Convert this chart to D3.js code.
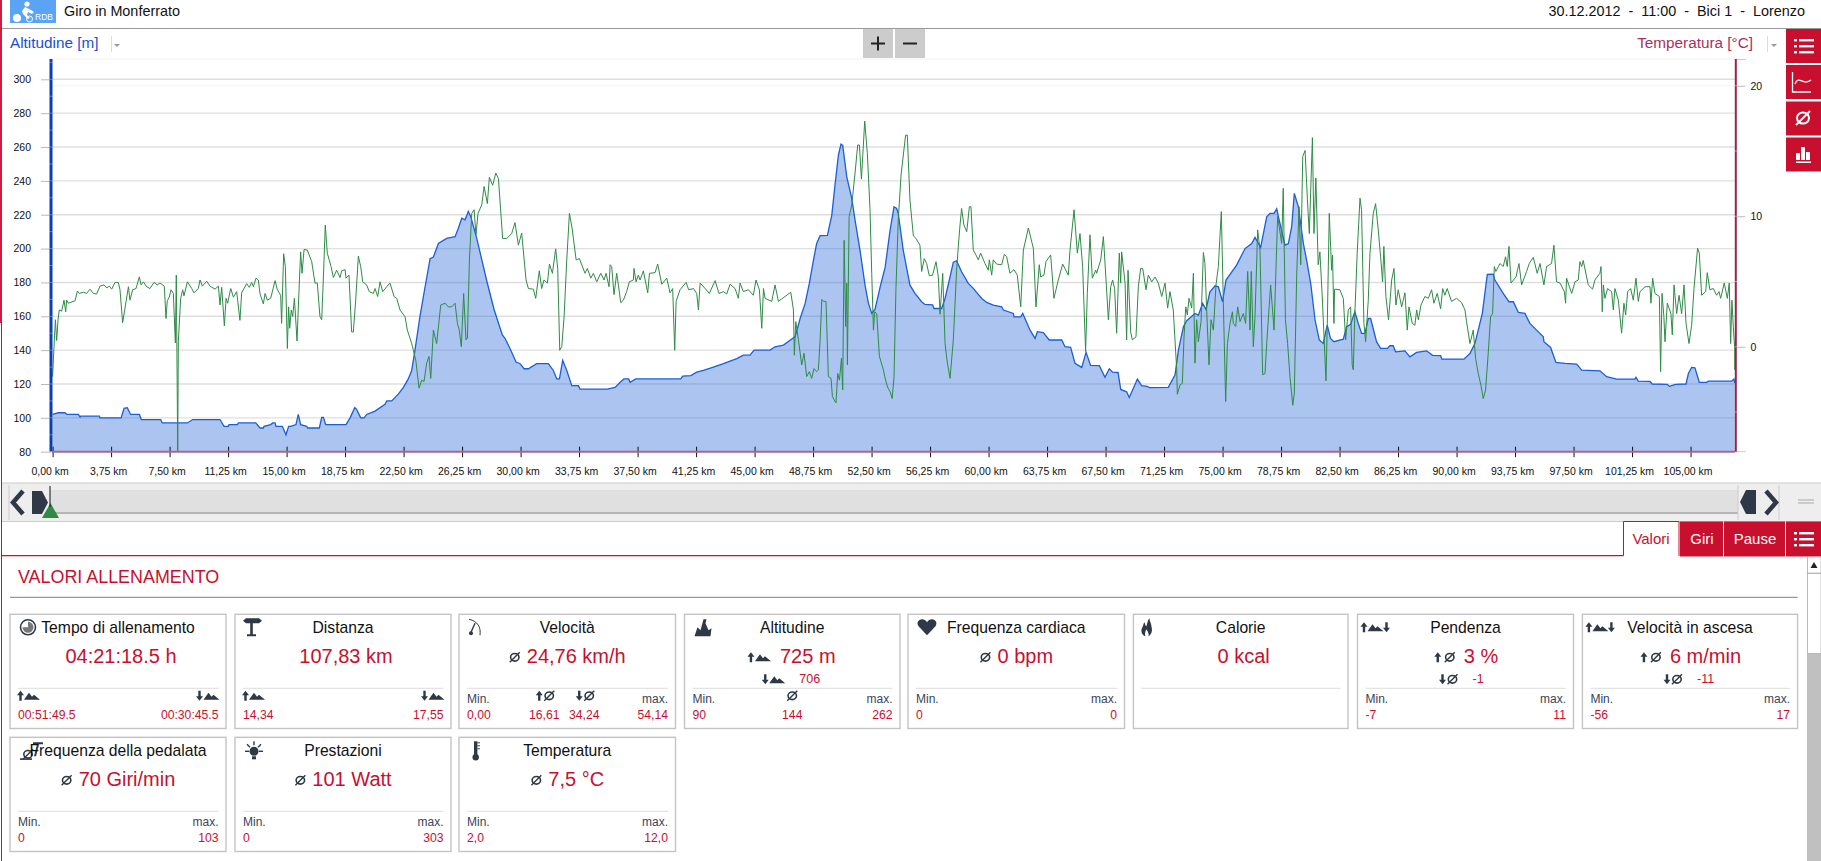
<!DOCTYPE html>
<html>
<head>
<meta charset="utf-8">
<style>
html, body { margin: 0; padding: 0; background: #fff; overflow: hidden; }
svg { display: block; font-family: "Liberation Sans", Arial, sans-serif; }
.tick text { font-family: "Liberation Sans", Arial, sans-serif; }
</style>
</head>
<body>
<script src="https://d3js.org/d3.v7.min.js"></script>
<script>

//chart values
var altTicks = [80, 100, 120, 140, 160, 180, 200, 220, 240, 260, 280, 300];
var altMinorTicks = [90, 110, 130, 150, 170, 190, 210, 230, 250, 270, 290, 310];
var tempTicks = [0, 10, 20];
var tempMinorTicks = [-5, 5, 15];
var kmTicks = [0, 3.75, 7.5, 11.25, 15, 18.75, 22.5, 26.25, 30, 33.75, 37.5, 41.25, 45, 48.75, 52.5, 56.25,
  60, 63.75, 67.5, 71.25, 75, 78.75, 82.5, 86.25, 90, 93.75, 97.5, 101.25, 105];

//km, metres
var altitude = [[0,102],[.37,103],[.8,103],[.9,102],[1.65,102],[1.76,100.5],[1.8,101],[3,101],[3.04,100],[4.39,100],
[4.58,105.6],[4.79,106],[5,102],[5.56,102],[5.69,99],[6.93,99],[7.03,97],[8.64,97],[8.98,99],[10.73,99],
[10.99,95],[11.27,95],[11.31,96],[11.84,96],[11.91,97],[13.02,97],[13.3,94],[13.51,94],[13.55,95],[13.98,96],
[14.11,97],[14.26,97],[14.32,95],[14.73,95],[14.96,90],[15.13,95],[15.26,95],[15.6,96],[15.75,102],[15.9,96],
[16.29,95],[16.35,94],[17.1,94],[17.25,100.3],[17.36,100.3],[17.51,96],[18.81,96],[19.07,100],[19.37,106],[19.49,105],
[19.75,100],[19.96,100],[20.13,102],[20.67,104],[21.31,108],[21.42,110],[21.74,110],[22.16,114],[22.49,118],[22.8,123],
[23.02,128],[23.23,140],[23.55,160],[23.87,177],[24.2,194],[24.41,195],[24.73,203],[25.26,206],[25.8,207],[26.01,212],
[26.23,218],[26.44,217],[26.65,222],[26.8,219],[27.19,206],[27.83,181],[28.3,164],[28.58,156],[28.83,149],[29,147],
[29.32,141],[29.71,133],[29.97,132],[30.22,129],[30.5,129],[31.03,132],[31.78,132],[32.1,128],[32.32,123],[32.49,123],
[32.7,134],[32.96,128],[33.28,119],[33.71,119],[33.81,117],[35.56,117],[36.06,118],[36.38,121],[36.63,123],[36.93,123],
[37.02,121],[37.38,123],[40.27,123],[40.39,124.7],[40.91,125],[41.29,127],[41.72,128],[42.36,130],[43,132],[43.86,135],
[44.28,137],[44.71,137],[44.97,140],[45.99,140],[46.31,142],[46.85,143],[47.23,145.5],[47.6,148],[47.92,158.7],[48.24,167.6],
[48.51,179.4],[48.77,193],[48.98,203],[49.2,207.6],[49.67,207.8],[49.95,219.8],[50.16,238],[50.37,255],[50.54,261.7],[50.65,261],
[50.91,242.4],[51.23,229.6],[51.44,216.8],[51.76,199],[52.08,178.4],[52.3,167.6],[52.51,161.7],[52.72,164],[53.05,177.4],[53.37,189],
[53.69,211],[53.94,224.7],[54.11,223.7],[54.21,220.8],[54.53,199],[54.96,178.4],[55.28,173.5],[55.71,168.6],[55.92,167],[56.41,166.8],
[56.5,164.6],[56.99,164.6],[57.21,170.5],[57.53,183.3],[57.74,192],[57.95,192.8],[58.27,186.3],[58.7,179.4],[59.02,176.5],[59.56,170.5],
[59.88,168.2],[60.3,166.6],[60.84,165.6],[60.95,163.7],[61.59,161.7],[61.63,159.7],[62.06,159.7],[62.19,161.7],[62.66,151.8],[62.98,146.9],
[63.13,150.9],[63.51,150.3],[63.89,146],[64.69,146],[64.9,142],[65.26,141.6],[65.54,132.2],[65.97,129.8],[66.25,138.7],[66.54,131],
[67.1,130.8],[67.46,123.9],[67.74,129],[67.95,127],[68.3,126.8],[68.47,116.8],[68.85,115.4],[69.02,112],[69.54,122.9],[69.81,119],
[70.18,118.6],[70.31,117.8],[71.52,118],[71.95,125.3],[72.17,140],[72.49,153.8],[72.7,157.4],[73.23,161.7],[73.45,160.7],[73.72,167.6],
[73.94,164],[74.19,174.5],[74.52,178],[74.73,177.4],[75,168.6],[75.22,181.4],[75.9,190.2],[76.44,200],[76.87,203],[77.08,206.6],
[77.44,200.7],[77.83,218.8],[78.04,220.8],[78.3,220.8],[78.47,223.5],[78.58,218.8],[79,202],[79.22,203],[79.43,212.9],[79.6,232.6],
[79.86,224.7],[80.18,203],[80.39,193],[80.65,179.4],[80.93,157.8],[81.2,146],[81.45,144],[81.71,154.8],[81.92,146.9],[82.14,145],
[82.74,146.5],[82.95,153.8],[83.21,155.2],[83.48,162.7],[83.7,155.8],[83.91,149.9],[84.13,149.9],[84.34,158.7],[84.49,158.7],[84.87,145],
[85.13,141],[85.56,141],[85.73,142.6],[85.94,142.6],[86.09,139],[86.69,139.6],[87.01,136],[87.44,138.7],[88.08,139.6],[88.46,136.9],
[88.98,136.7],[89.06,134.7],[90.47,134.7],[90.86,138],[91.18,144],[91.39,151.8],[91.65,161.7],[91.97,184.7],[92.35,184.9],[92.46,181.4],
[92.99,173.5],[93.36,168.6],[93.64,168.6],[93.96,162.3],[94.38,161.7],[94.7,155.8],[95.13,151.8],[95.56,147.9],[95.6,145],[96.03,141.6],
[96.37,132.7],[96.95,132.2],[97.7,131.8],[98.02,128.2],[99.19,127.8],[99.62,124.3],[100.26,122.9],[101.44,122.9],[101.5,123.9],[101.65,121.7],
[102.4,121.5],[102.55,120],[103.51,119.8],[103.64,118.6],[104.04,119.8],[104.71,120],[104.86,126.2],[105.07,129.8],[105.28,129.6],[105.56,121],
[106.03,121],[106.14,121.7],[107.63,121.7],[107.78,122.9],[107.83,120.7]];

//km, km/h
var speed = [[0,12.3],[.09,17.2],[.18,21.6],[.26,18.2],[.35,21.6],[.43,23.2],[.58,23],[.73,24.8],[.84,22.9],[.9,24.8],
[1.01,24.3],[1.44,24.7],[1.59,26.3],[1.71,25.9],[1.97,26.1],[2.18,25.9],[2.4,26.6],[2.61,25.9],[2.82,25.8],[3.04,27.1],
[3.29,27.3],[3.47,26.8],[3.64,27.1],[3.79,26.6],[4,27.7],[4.21,27.7],[4.32,26.5],[4.49,21.1],[4.71,24.6],[4.86,27],
[4.96,24.8],[5.13,26.5],[5.35,26.7],[5.56,28.6],[5.67,27.3],[5.82,27.8],[6.03,27],[6.24,26.7],[6.5,27.7],[6.71,27.3],
[6.88,27.6],[7.16,27.1],[7.27,21.8],[7.35,24.7],[7.48,25.3],[7.59,26.5],[7.74,25.9],[7.87,17.8],[7.93,28.9],[8.02,0],
[8.06,18],[8.21,25.1],[8.34,26.5],[8.42,25.5],[8.64,27.8],[8.92,26.7],[9.06,26],[9.34,26.7],[9.45,28.1],[9.6,27.1],
[9.88,27.9],[10.09,27.1],[10.41,26.6],[10.63,27.1],[10.73,24],[10.84,26.9],[11.01,20.6],[11.12,25.1],[11.22,24.3],[11.42,26.7],
[11.59,25.3],[11.8,26.2],[12.01,21.5],[12.12,26],[12.44,27.5],[12.61,26.9],[12.76,27.7],[12.87,27],[13.04,28.4],[13.19,28.1],
[13.3,25.8],[13.51,24.2],[13.62,25.9],[13.77,24.8],[13.98,25.1],[14.26,28],[14.41,26.5],[14.62,25.6],[14.68,21],[14.81,32.4],
[14.92,30.3],[15.05,16.9],[15.13,23.7],[15.2,20.2],[15.3,23.2],[15.39,22.1],[15.5,25.1],[15.67,18.1],[15.77,24.8],[15.9,32.7],
[15.99,29.2],[16.12,33.1],[16.33,33],[16.61,31.1],[16.82,27.6],[16.97,27.6],[17.14,22.1],[17.25,21.6],[17.36,28.6],[17.48,37.1],
[17.61,32.5],[17.85,30.3],[18,28.5],[18.21,29.7],[18.43,28.5],[18.53,29.6],[18.75,29.8],[18.81,28.4],[19,28.9],[19.17,19.6],
[19.28,19.6],[19.43,24.8],[19.6,32],[19.75,30.3],[19.88,27.8],[20.13,27.3],[20.3,26.2],[20.56,25.9],[20.67,26.7],[20.84,25.4],
[20.99,27.8],[21.16,26.2],[21.42,27],[21.63,27.6],[21.89,25.4],[22.06,25.1],[22.27,23.2],[22.59,22.1],[22.74,19.9],[23.02,17.7],
[23.28,15],[23.49,10.4],[23.66,11.7],[23.81,11.5],[23.98,14.5],[24.13,15.6],[24.24,12],[24.41,19.9],[24.62,17.7],[24.88,24],
[25.16,24.3],[25.37,23.7],[25.58,23.7],[25.8,24.3],[25.95,21],[26.07,19.9],[26.2,17.2],[26.35,25.9],[26.5,18.3],[26.59,18.6],
[26.72,31.4],[26.87,39],[27.02,39.6],[27.14,35.5],[27.27,39],[27.51,40.4],[27.66,43.4],[27.87,40.6],[28,44.9],[28.21,43.6],
[28.41,45.6],[28.58,44.7],[28.85,34.9],[29.11,34.9],[29.43,35.7],[29.64,37.5],[29.86,33.8],[30.07,35.8],[30.35,28.1],[30.5,26.7],
[30.82,26.6],[30.97,25.1],[31.2,29.6],[31.35,26.7],[31.5,28.1],[31.72,27.6],[31.85,30.7],[32.04,29.2],[32.25,33.2],[32.38,30],
[32.51,16.6],[32.64,17.2],[32.79,22.1],[32.96,31.4],[33.13,39],[33.3,36.6],[33.56,31.4],[33.77,31.6],[34.13,29.2],[34.28,30],
[34.5,28.4],[34.67,29.2],[34.88,27.8],[35.14,29.2],[35.35,28.1],[35.48,29.2],[35.67,27],[35.74,30.6],[35.84,30.3],[35.99,25.7],
[36.16,29.2],[36.27,27.3],[36.42,24.4],[36.59,24.8],[36.8,26.2],[36.97,27.8],[37.23,28.1],[37.27,30],[37.4,27.8],[37.55,28.9],
[37.66,28.1],[37.87,29.6],[38.15,26],[38.26,29.2],[38.62,29.3],[38.79,30.7],[39.05,27.4],[39.37,28.4],[39.58,26],[39.75,26.7],
[39.88,16.6],[39.97,24.6],[40.22,26.5],[40.61,27.7],[40.78,26.5],[41.08,26.7],[41.29,25.9],[41.4,23.2],[41.51,27.6],[41.83,26.7],
[42.1,25.9],[42.47,28],[42.72,25.9],[43,26.2],[43.21,25.8],[43.43,27.4],[43.75,26.7],[43.96,25.1],[44.07,27.6],[44.28,26.2],
[44.6,26.5],[44.92,25.6],[45.09,28.1],[45.31,26.5],[45.46,20.2],[45.57,26.7],[45.67,25.1],[46.1,24.6],[46.31,27.3],[46.53,24.6],
[46.95,25.4],[47.32,26.1],[47.49,23.2],[47.55,15.8],[47.64,21.3],[47.81,18.3],[48.02,14.2],[48.17,16.1],[48.34,12.3],[48.51,13.1],
[48.66,12],[48.81,13.6],[48.98,13.1],[49.09,13.4],[49.2,18.3],[49.31,24.9],[49.41,24.6],[49.58,24.6],[49.73,12.3],[49.9,12],
[49.99,9],[50.22,8],[50.33,12.8],[50.44,11.7],[50.57,15.3],[50.65,10.1],[50.74,34.6],[50.84,20.5],[50.91,27.6],[50.95,14.2],
[51.06,38.5],[51.23,40.4],[51.44,45.6],[51.61,50.2],[51.72,50.2],[51.85,44.6],[52.06,54.1],[52.23,48.8],[52.4,39.6],[52.51,29.2],
[52.62,19.9],[52.7,22.9],[52.83,22.6],[53,15.6],[53.26,13.4],[53.37,12],[53.52,10.6],[53.69,9.8],[53.82,8.7],[53.94,12.3],
[54.06,26.5],[54.21,37.9],[54.39,45.3],[54.68,51.8],[54.79,51.8],[54.96,41.2],[55.18,35.3],[55.35,34.9],[55.6,33.8],[55.71,29.5],
[55.88,31.6],[56.03,30.8],[56.2,28.8],[56.41,28.9],[56.63,31.1],[56.78,28.6],[56.89,22.5],[57.06,29.2],[57.21,17.7],[57.36,14.5],
[57.53,12],[57.74,18.3],[57.95,29.7],[58.06,33.6],[58.17,37.1],[58.27,39.8],[58.42,37.1],[58.6,36],[58.77,40.1],[58.87,40.1],
[59.02,33],[59.19,32.2],[59.34,31.4],[59.49,32.5],[59.77,30.8],[59.98,29.7],[60.05,31.4],[60.2,28.9],[60.3,31.4],[60.52,30.7],
[60.84,30.6],[61.01,32.3],[61.16,31.9],[61.37,29.2],[61.63,29.8],[61.84,28.9],[62.06,23.7],[62.23,33],[62.55,36.6],[62.87,33.3],
[63.04,23.7],[63.25,30.6],[63.34,28.6],[63.55,28.9],[63.68,31.1],[63.98,32.2],[64.19,25.1],[64.47,28.1],[64.75,30.7],[65.11,28.9],
[65.22,33],[65.48,39.6],[65.69,32.5],[65.86,35.7],[66.03,30.3],[66.22,16.4],[66.33,25.9],[66.5,35.5],[66.65,28.4],[66.87,29.7],
[66.93,29.2],[67.19,31.4],[67.36,35.2],[67.53,28.1],[67.68,21.6],[67.83,27],[67.95,28.1],[68.08,26.7],[68.21,19.4],[68.38,32.5],
[68.47,27.6],[68.53,32.7],[68.75,27.6],[68.85,18.3],[68.94,29.7],[69.11,19.6],[69.22,18.3],[69.45,18.8],[69.6,27],[69.75,30],
[69.88,30],[70.09,26.5],[70.24,28.9],[70.46,27.8],[70.67,28.6],[70.88,27.6],[71.1,25.4],[71.31,27.6],[71.48,23.5],[71.63,26.2],
[71.84,23.2],[71.95,18.3],[72.06,13.4],[72.1,9.4],[72.27,10.9],[72.42,11.2],[72.53,18.8],[72.64,23.7],[72.74,22.4],[72.85,25.1],
[73.02,23.5],[73.13,29.2],[73.23,14.5],[73.34,21.6],[73.45,18],[73.62,21.3],[73.77,32.6],[73.87,30.8],[73.98,23.2],[74.13,14.2],
[74.26,21.6],[74.41,19.9],[74.58,27.3],[74.73,30.3],[74.92,39.3],[75.05,24.3],[75.2,8.2],[75.31,17.7],[75.48,21],[75.63,22.9],
[75.69,21],[75.84,20.5],[75.97,23.7],[76.12,21.3],[76.33,22.6],[76.48,21],[76.61,29.5],[76.76,19.9],[76.84,29.5],[76.97,17.2],
[77.08,22.1],[77.25,36.3],[77.4,33],[77.57,12.6],[77.72,12.8],[77.83,17.7],[78.08,27.3],[78.3,19.9],[78.53,38.5],[78.79,34.1],
[78.89,43.1],[79.03,21.6],[79.17,17.7],[79.32,12.3],[79.5,7.6],[79.6,9.6],[79.75,28.6],[79.9,40.1],[80.01,30.6],[80.14,48.3],
[80.29,49.3],[80.44,41.2],[80.56,35.7],[80.76,51.4],[80.86,35.7],[80.98,44.8],[81.13,30.6],[81.24,32.7],[81.41,24.3],[81.63,11.6],
[81.71,20.5],[81.84,39],[81.99,29.7],[82.05,32.2],[82.14,21],[82.18,26.6],[82.52,26.5],[82.74,25.1],[82.89,18.3],[83.06,23.2],
[83.21,23.7],[83.31,14.2],[83.38,13.4],[83.48,22.6],[83.63,32.5],[83.81,41.5],[83.91,39.6],[84.06,21],[84.17,18],[84.34,24.8],
[84.45,32.5],[84.66,39],[84.81,40.6],[84.98,36.3],[85.13,31.9],[85.26,27.8],[85.34,33.6],[85.47,25.4],[85.64,21.6],[85.84,28.1],
[85.99,30],[86.11,24],[86.26,26.5],[86.48,23.7],[86.69,26],[86.84,19.9],[86.95,23.7],[87.16,21],[87.33,20.7],[87.44,23.2],
[87.55,21.6],[87.72,24],[87.97,25.4],[88.19,25.1],[88.4,26.5],[88.55,24.3],[88.76,25.9],[88.98,23.4],[89.11,26.7],[89.25,25.6],
[89.4,26.7],[89.68,24.6],[90,25.1],[90.32,24.4],[90.54,23.2],[90.64,21.3],[90.86,17.7],[91.07,19.9],[91.22,15.3],[91.39,12.8],
[91.56,10.9],[91.71,8.7],[91.86,10.1],[92.03,16.1],[92.18,22.1],[92.31,22.6],[92.42,30.3],[92.52,29.5],[92.78,30.8],[92.99,30.3],
[93.14,31.9],[93.25,30.3],[93.36,33.6],[93.49,27.6],[93.81,28.6],[94,30.8],[94.17,27.3],[94.49,29.5],[94.66,30.8],[94.92,31.8],
[95.17,29.2],[95.35,30.8],[95.6,27.3],[95.77,30.3],[96.09,30.8],[96.24,33.8],[96.41,27.8],[96.63,27.6],[96.91,26.2],[96.99,24.3],
[97.05,28.4],[97.38,25.9],[97.59,27.8],[97.8,28.1],[97.91,31.1],[98.02,30.3],[98.12,31.3],[98.44,27.3],[98.72,26.6],[98.87,28.1],
[99.19,29.2],[99.26,30.3],[99.34,22.9],[99.41,27.3],[99.51,25.1],[99.68,26.7],[99.94,26.2],[100.05,23.2],[100.15,26.7],[100.37,24.8],
[100.58,19.4],[100.73,24.3],[100.84,22.4],[100.97,26.2],[101.16,26.7],[101.33,24.8],[101.5,28.4],[101.65,24.6],[101.76,26.2],[102.08,27],
[102.4,27],[102.46,24.3],[102.57,28.4],[102.72,25.9],[103,25.4],[103.08,13.1],[103.17,25.9],[103.29,22.1],[103.36,18],[103.51,24.3],
[103.74,22.6],[103.83,19.1],[103.94,27.3],[104.11,22.6],[104.26,25.6],[104.43,22.6],[104.58,27.3],[104.71,21],[104.9,17.7],[105.07,20.7],
[105.22,26.7],[105.45,33.3],[105.56,32.5],[105.71,25.6],[105.97,26.2],[106.07,29.3],[106.24,26.5],[106.46,26.7],[106.67,25.6],[106.82,26.2],
[106.93,25.1],[107.16,27.6],[107.36,25.1],[107.48,27.6],[107.57,17.7],[107.65,24.8],[107.74,20.5],[107.83,16.9],[107.83,13.4]];

//stat cards
var cardTitles = ["Tempo di allenamento", "Distanza", "Velocità", "Altitudine", "Frequenza cardiaca", "Calorie",
  "Pendenza", "Velocità in ascesa", "Frequenza della pedalata", "Prestazioni", "Temperatura"];
var cardValues = ["04:21:18.5 h", "107,83 km", "24,76 km/h", "725 m", "0 bpm", "0 kcal",
  "3 %", "6 m/min", "70 Giri/min", "101 Watt", "7,5 °C"];
var cardPrefix = ["", "", "avg", "upMtn", "avg", "", "upAvg", "upAvg", "avg", "avg", "avg"];
var cardIcons = ["clock", "sign", "gauge", "peak", "heart", "flame", "updown", "updown", "pedal", "bulb", "thermo"];
var cardFootLeft = ["00:51:49.5", "14,34", "0,00", "90", "0", "", "-7", "-56", "0", "0", "2,0"];
var cardFootRight = ["00:30:45.5", "17,55", "54,14", "262", "0", "", "11", "17", "103", "303", "12,0"];
var cardSecond = ["", "", "", "706", "", "", "-1", "-11", "", "", ""];
var speedUpDown = ["16,61", "34,24"];
var altitudeAvg = "144";
var tabLabels = ["Valori", "Giri", "Pause"];

var red = "#c8102e", dark = "#2f3846", gridCol = "#dfdfdf";

var svg = d3.select("body").append("svg")
    .attr("width", 1821)
    .attr("height", 861);

function rect(p, x, y, w, h, fill) {
  return p.append("rect").attr("x", x).attr("y", y).attr("width", w).attr("height", h).attr("fill", fill);
}
function hline(p, x1, x2, y, col, sw) {
  return p.append("line").attr("x1", x1).attr("x2", x2).attr("y1", y).attr("y2", y).attr("stroke", col).attr("stroke-width", sw);
}
function vline(p, x, y1, y2, col, sw) {
  return p.append("line").attr("x1", x).attr("x2", x).attr("y1", y1).attr("y2", y2).attr("stroke", col).attr("stroke-width", sw);
}
function label(p, x, y, s, size, col, anchor) {
  return p.append("text").attr("x", x).attr("y", y).attr("dy", "0.35em").attr("font-size", size)
    .attr("fill", col).attr("text-anchor", anchor || "start").text(s);
}
function shape(p, x, y, d, col) {
  return p.append("path").attr("transform", "translate(" + x + "," + y + ")").attr("d", d).attr("fill", col || dark);
}

//small icons
function avgIcon(p, x, y, col) {
  var g = p.append("g").attr("transform", "translate(" + x + "," + y + ")");
  g.append("ellipse").attr("rx", 4.2).attr("ry", 3.8).attr("fill", "none").attr("stroke", col || dark).attr("stroke-width", 1.6);
  g.append("line").attr("x1", -5).attr("y1", 5).attr("x2", 5).attr("y2", -5).attr("stroke", col || dark).attr("stroke-width", 1.4);
}
function arrow(p, x, y, up) {
  var s = up ? 1 : -1;
  shape(p, x, y, "M0," + (-5 * s) + "L" + 3.5 + "," + (-0.5 * s) + "L1.2," + (-0.5 * s) + "L1.2," + (5 * s)
    + "L-1.2," + (5 * s) + "L-1.2," + (-0.5 * s) + "L-3.5," + (-0.5 * s) + "Z");
}
function mountains(p, x, y) {
  shape(p, x, y, "M0,4L5,-3L8,1L10,-1L16,4Z");
}

//header
rect(svg, 10, 0, 46, 23, "#5ba3f5");
var logo = svg.append("g").attr("fill", "#fff");
logo.append("circle").attr("cx", 27).attr("cy", 4).attr("r", 2.6);
logo.append("path").attr("d", "M25,7L31,10L34,12L32,14L28,12L27,15L30,18L28,19L23,14L22,11Z");
logo.append("circle").attr("cx", 17).attr("cy", 18).attr("r", 4);
logo.append("circle").attr("cx", 29.5).attr("cy", 19).attr("r", 3).attr("fill", "none").attr("stroke", "#fff");
label(svg, 35, 17, "RDB", 8.5, "#fff");
label(svg, 64, 10.5, "Giro in Monferrato", 14.4, "#111");
label(svg, 1805, 10.5, "30.12.2012\u00a0\u00a0-\u00a0\u00a011:00\u00a0\u00a0-\u00a0\u00a0Bici 1\u00a0\u00a0-\u00a0\u00a0Lorenzo", 14.4, "#111", "end");
hline(svg, 2, 1821, 28.5, "#999", 1.2);
rect(svg, 0, 0, 2, 323, "#d01c3f");
rect(svg, 1, 323, 1, 538, red);

//axis titles and buttons
label(svg, 10, 42.5, "Altitudine [m]", 15.3, "#1a4fd0");
vline(svg, 111.5, 36, 52, "#ddd", 1);
shape(svg, 117, 44, "M-3,0L3,0L0,3Z", "#999");
label(svg, 1753, 42.5, "Temperatura [°C]", 15.3, "#a8305f", "end");
vline(svg, 1767.5, 36, 52, "#ddd", 1);
shape(svg, 1774, 44, "M-3,0L3,0L0,3Z", "#999");
rect(svg, 863, 29, 30, 29, "#ccc");
rect(svg, 895, 29, 30, 29, "#ccc");
rect(svg, 871, 42.5, 14, 2, "#222");
rect(svg, 877, 36.5, 2, 14, "#222");
rect(svg, 903, 42.5, 14, 2, "#222");

var sideY = [29, 65, 101.5, 137.5];
sideY.forEach(function(y) { rect(svg, 1786, y, 35, 34, red); });
function listIcon(p, x, y) {
  [0, 6, 12].forEach(function(d) {
    rect(p, x, y + d - 1, 3, 2.4, "#fff");
    rect(p, x + 5, y + d - 1, 15, 2.4, "#fff");
  });
}
listIcon(svg, 1794, 40);
svg.append("path").attr("d", "M1792.5,72V92H1811M1795,84C1799,74 1803,87 1811,80").attr("fill", "none").attr("stroke", "#fff").attr("stroke-width", 1.3);
svg.append("ellipse").attr("cx", 1803).attr("cy", 118).attr("rx", 6).attr("ry", 5.5).attr("fill", "none").attr("stroke", "#fff").attr("stroke-width", 2);
svg.append("line").attr("x1", 1796).attr("y1", 125).attr("x2", 1810).attr("y2", 111).attr("stroke", "#fff").attr("stroke-width", 2);
rect(svg, 1796, 153, 4, 7, "#fff");
rect(svg, 1801, 147, 4, 13, "#fff");
rect(svg, 1806, 152, 4, 8, "#fff");
rect(svg, 1796, 161.5, 15, 1.5, "#fff");

//chart
var x = d3.scaleLinear().domain([0, 107.83]).range([52.6, 1734.7]);
var yAlt = d3.scaleLinear().domain([80, 312]).range([451.7, 59]);
var yTemp = d3.scaleLinear().domain([-8.04, 22.05]).range([451.7, 59]);
var ySpeed = d3.scaleLinear().domain([0, 64.27]).range([451.7, 59]);

//grid
svg.append("g").selectAll("line").data(altTicks.slice(1)).join("line")
    .attr("x1", 52).attr("x2", 1735)
    .attr("y1", yAlt).attr("y2", yAlt)
    .attr("stroke", gridCol).attr("stroke-width", 1.4);
svg.append("g").selectAll("line").data([20, 22.05]).join("line")
    .attr("x1", 52).attr("x2", 1735)
    .attr("y1", yTemp).attr("y2", yTemp)
    .attr("stroke", "#f3f3f3").attr("stroke-width", 1);

//altitude area
var areaAlt = d3.area()
    .x(function(d) { return x(d[0]); })
    .y0(yAlt(80))
    .y1(function(d) { return yAlt(d[1]); });
svg.append("path").datum(altitude)
    .attr("d", areaAlt)
    .attr("fill", "#1a5fd6").attr("fill-opacity", 0.37);
svg.append("path").datum(altitude)
    .attr("d", d3.line().x(function(d) { return x(d[0]); }).y(function(d) { return yAlt(d[1]); }))
    .attr("fill", "none").attr("stroke", "#1a5fd6").attr("stroke-width", 1.3);

//speed line
svg.append("path").datum(speed)
    .attr("d", d3.line().x(function(d) { return x(d[0]); }).y(function(d) { return ySpeed(d[1]); }))
    .attr("fill", "none").attr("stroke", "#2e8b45").attr("stroke-width", 1);

//axes
function styleAxis(g, col) {
  g.select(".domain").remove();
  g.selectAll(".tick line").attr("stroke", col);
  g.selectAll(".tick text").attr("font-size", 10.5).attr("fill", "#111");
}
var axisBottom = svg.append("g")
    .attr("transform", "translate(0,451.7)")
    .call(d3.axisBottom(x).tickValues(kmTicks).tickSize(5.5).tickPadding(10)
      .tickFormat(function(d) { return d3.format(".2f")(d).replace(".", ",") + " km"; }));
styleAxis(axisBottom, "#111");
axisBottom.selectAll(".tick line").attr("y1", -5);
axisBottom.selectAll(".tick text").attr("dx", -3);
hline(svg, 52, 1735, 451.7, "#a8688c", 2);

var axisLeft = svg.append("g")
    .attr("transform", "translate(51,0)")
    .call(d3.axisLeft(yAlt).tickValues(altTicks).tickSize(10).tickPadding(10));
styleAxis(axisLeft, "#bbb");
vline(svg, 51, 59, 451.7, "#0a3fb0", 3);
svg.append("g").selectAll("line").data(altMinorTicks.concat(altTicks)).join("line")
    .attr("x1", 49.5).attr("x2", 52.5)
    .attr("y1", yAlt).attr("y2", yAlt)
    .attr("stroke", "#fff").attr("stroke-width", 1).attr("stroke-opacity", 0.35);

var axisRight = svg.append("g")
    .attr("transform", "translate(1735.5,0)")
    .call(d3.axisRight(yTemp).tickValues(tempTicks).tickSize(10).tickPadding(5));
styleAxis(axisRight, "#bbb");
hline(svg, 1736, 1746, 59.5, "#ccc", 1);
hline(svg, 1736, 1746, 451.7, "#ccc", 1);
vline(svg, 1735.8, 59, 451.7, "#9a2346", 2);
svg.append("g").selectAll("line").data(tempMinorTicks.concat(tempTicks)).join("line")
    .attr("x1", 1734.5).attr("x2", 1737)
    .attr("y1", yTemp).attr("y2", yTemp)
    .attr("stroke", "#fff").attr("stroke-opacity", 0.5);

//range slider
rect(svg, 2, 483, 1819, 38.5, "#eee");
hline(svg, 2, 1821, 483, "#ccc", 1);
hline(svg, 2, 1821, 521.5, "#ccc", 1);
rect(svg, 50, 490, 1688, 22, "#e0e0e0");
rect(svg, 50, 512, 1688, 2, "#b5b5b5");
vline(svg, 9, 485, 520, "#ccc", 1);
vline(svg, 1738, 485, 520, "#ccc", 1);
vline(svg, 1779, 485, 520, "#ccc", 1);
svg.append("path").attr("d", "M23,491L13,502.5L23,514").attr("fill", "none").attr("stroke", dark).attr("stroke-width", 4.5);
svg.append("path").attr("d", "M1766,491L1776,502.5L1766,514").attr("fill", "none").attr("stroke", dark).attr("stroke-width", 4.5);
shape(svg, 0, 0, "M32,491H42L48,502.5L42,514H32Z");
shape(svg, 0, 0, "M1756,490H1746L1740,502L1746,514H1756Z");
shape(svg, 0, 0, "M50.5,503L59,518H42Z", "#2e8b45");
vline(svg, 50, 486, 507, "#111", 1);
hline(svg, 1798, 1814, 500, "#aaa", 1);
hline(svg, 1798, 1814, 503, "#aaa", 1);

//tabs
hline(svg, 2, 1623.5, 555.7, red, 1.2);
svg.append("path").attr("d", "M1623.5,555.7V521.5H1679V556").attr("fill", "#fff").attr("stroke", red).attr("stroke-width", 1);
rect(svg, 1680, 521.5, 43, 35, red);
rect(svg, 1724, 521.5, 61, 35, red);
rect(svg, 1786, 521.5, 35, 35, red);
label(svg, 1651, 539, tabLabels[0], 15, red, "middle");
label(svg, 1702, 539, tabLabels[1], 15, "#fff", "middle");
label(svg, 1755, 539, tabLabels[2], 15, "#fff", "middle");
listIcon(svg, 1794, 533);

//scrollbar
rect(svg, 1807, 557, 14, 304, "#c0c0c0");
rect(svg, 1807.5, 557, 13.5, 16, "#fff").attr("stroke", "#aaa").attr("stroke-width", 0.7);
rect(svg, 1807.5, 573.5, 13.5, 80, "#fff").attr("stroke", "#aaa").attr("stroke-width", 0.7);
shape(svg, 1814, 565, "M-3.5,3L3.5,3L0,-3Z", "#222");

label(svg, 18, 577, "VALORI ALLENAMENTO", 17.9, red);
hline(svg, 10, 1797.6, 597.3, "#999", 1.2);

//title icons
function titleIcon(p, name, x, y) {
  if (name === "clock") {
    p.append("circle").attr("cx", x + 19).attr("cy", y).attr("r", 7.5).attr("fill", "#fff").attr("stroke", dark).attr("stroke-width", 1.6);
    shape(p, x + 19, y, "M0,0V-5.5A5.5,5.5 0 1 1 -5.5,0Z", "#777");
  } else if (name === "sign") {
    shape(p, x + 12, y, "M0,-9H13L16,-6.5L13,-4H0L-3,-6.5Z M4.2,-4H6.8V7H10V9H1V7H4.2Z");
  } else if (name === "gauge") {
    p.append("path").attr("d", "M" + (x + 11) + "," + (y - 8) + "C" + (x + 20) + "," + (y - 6) + " " + (x + 23) + "," + y + " " + (x + 22) + "," + (y + 8))
      .attr("fill", "none").attr("stroke", dark).attr("stroke-width", 1);
    p.append("line").attr("x1", x + 17).attr("y1", y - 4).attr("x2", x + 13).attr("y2", y + 5).attr("stroke", dark).attr("stroke-width", 1.4);
    p.append("circle").attr("cx", x + 13).attr("cy", y + 6).attr("r", 2).attr("fill", dark);
  } else if (name === "peak") {
    shape(p, x + 11, y, "M0,9L3,0L6,3L9,-8H12L11,-4L14,3L17,1L16,9Z");
  } else if (name === "heart") {
    shape(p, x + 20, y, "M0,8L-8.5,-1C-11,-5 -8,-8 -5,-8C-3,-8 -1,-7 0,-5C1,-7 3,-8 5,-8C8,-8 11,-5 8.5,-1Z");
  } else if (name === "flame") {
    shape(p, x + 14, y, "M-1,9C-5,8 -6,3 -4,0C-3,-2 -3,-4 -2,-5C-1,-3 -1,-1 0,-1C1,-4 1,-7 3,-9C3,-6 5,-4 5,-1C6,2 6,7 2,9C3,6 1,4 0,2C-1,4 -2,6 -1,9Z");
  } else if (name === "updown") {
    arrow(p, x + 7.5, y, true);
    mountains(p, x + 11, y);
    arrow(p, x + 30, y, false);
  } else if (name === "pedal") {
    avgIcon(p, x + 19, y + 4, dark);
    shape(p, x + 20, y, "M4,-8H14V-6H10L7,6H5L8,-6H4Z");
    rect(p, x + 11, y + 8, 12, 1.6, dark);
  } else if (name === "bulb") {
    p.append("circle").attr("cx", x + 20).attr("cy", y + 1).attr("r", 4.5).attr("fill", dark);
    rect(p, x + 18, y + 6, 4, 3, dark);
    [[-9, 1, -5, 1], [5, 1, 9, 1], [-7, -6, -4, -3], [7, -6, 4, -3], [0, -9, 0, -5]].forEach(function(d) {
      p.append("line").attr("x1", x + 20 + d[0]).attr("y1", y + d[1]).attr("x2", x + 20 + d[2]).attr("y2", y + d[3]).attr("stroke", dark).attr("stroke-width", 1.4);
    });
  } else if (name === "thermo") {
    rect(p, x + 16, y - 9, 3.4, 14, dark);
    p.append("circle").attr("cx", x + 17.7).attr("cy", y + 7).attr("r", 3.2).attr("fill", dark);
    [-8, -5, -2].forEach(function(d) { rect(p, x + 19.4, y + d, 2.5, 1, dark); });
  }
}

//cards
var cardX = [10, 235, 459, 684.5, 908, 1133.4, 1357.5, 1582.4, 10, 235, 459];
var cardW = [216, 216, 216.5, 215.5, 216.5, 214.6, 216, 215.2, 216, 216, 216.5];
var cardY = [614.3, 614.3, 614.3, 614.3, 614.3, 614.3, 614.3, 614.3, 737.3, 737.3, 737.3];

cardTitles.forEach(function(title, i) {
  var cx0 = cardX[i], w = cardW[i], top = cardY[i], cx = cx0 + w / 2, right = cx0 + w - 7.5;
  var card = svg.append("g");
  rect(card, cx0, top, w, 114.2, "#fff").attr("stroke", "#c4c4c4").attr("stroke-width", 1.4);
  titleIcon(card, cardIcons[i], cx0 - 1, top + 13);
  label(card, cx, top + 13, title, 15.7, "#111", "middle");

  //main value, centred together with the icon in front of it
  var pre = cardPrefix[i], preW = pre === "avg" ? 18 : pre === "" ? 6 : 31;
  var val = label(card, cx + preW / 2, top + 41.5, cardValues[i], 20, red, "middle");
  var left = cx + preW / 2 - val.node().getComputedTextLength() / 2;
  if (pre === "avg") avgIcon(card, left - 12, top + 43);
  if (pre === "upAvg") { arrow(card, left - 26, top + 43, true); avgIcon(card, left - 14, top + 43); }
  if (pre === "upMtn") { arrow(card, left - 29, top + 43, true); mountains(card, left - 25, top + 43); }

  if (cardSecond[i] !== "") {
    label(card, cx + 7, top + 64, cardSecond[i], 12.5, red);
    if (i === 3) { arrow(card, cx - 27, top + 65, false); mountains(card, cx - 23, top + 65); }
    else { arrow(card, cx - 23, top + 65, false); avgIcon(card, cx - 13, top + 65); }
  }

  hline(card, cx0 + 8, right, top + 74, "#ddd", 1);
  if (cardFootLeft[i] === "") return;

  if (i < 2) {
    arrow(card, cx0 + 10.5, top + 81.5, true);
    mountains(card, cx0 + 14, top + 81.5);
    arrow(card, right - 19, top + 81.5, false);
    mountains(card, right - 15, top + 81.5);
  } else {
    label(card, cx0 + 8, top + 84, "Min.", 12, "#3a4456");
    label(card, right, top + 84, "max.", 12, "#3a4456", "end");
  }
  label(card, cx0 + 8, top + 100, cardFootLeft[i], 12.2, red);
  label(card, right, top + 100, cardFootRight[i], 12.2, red, "end");

  if (i === 2) {
    arrow(card, cx - 28, top + 81.5, true);
    avgIcon(card, cx - 18, top + 81.5);
    arrow(card, cx + 12, top + 81.5, false);
    avgIcon(card, cx + 22, top + 81.5);
    label(card, cx - 23, top + 100, speedUpDown[0], 12.2, red, "middle");
    label(card, cx + 17, top + 100, speedUpDown[1], 12.2, red, "middle");
  }
  if (i === 3) {
    avgIcon(card, cx, top + 81.5);
    label(card, cx, top + 100, altitudeAvg, 12.2, red, "middle");
  }
});

</script>
</body>
</html>
